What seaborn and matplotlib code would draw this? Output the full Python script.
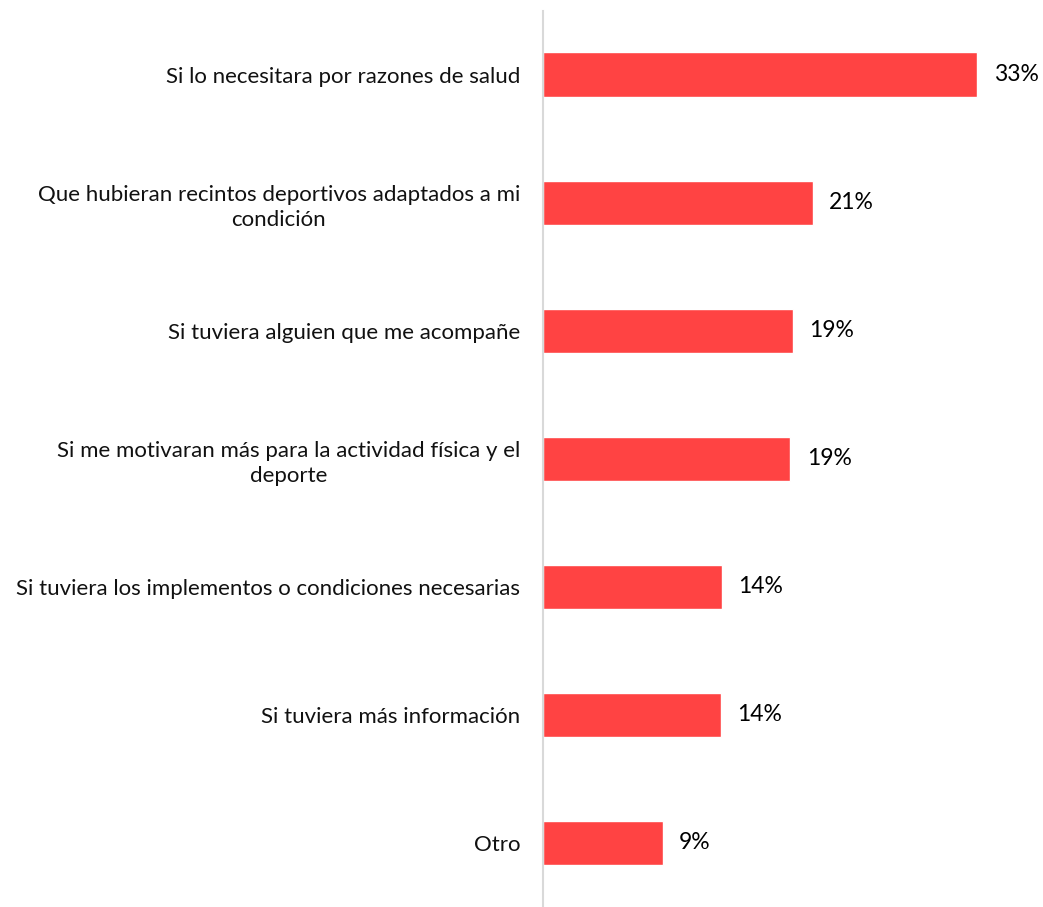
import seaborn as sns
import matplotlib.pyplot as plt
import pandas as pd

# Data
categories = [
    "Si lo necesitara por razones de salud",
    "Que hubieran recintos deportivos adaptados a mi\ncondición",
    "Si tuviera alguien que me acompañe",
    "Si me motivaran más para la actividad física y el\ndeporte",
    "Si tuviera los implementos o condiciones necesarias",
    "Si tuviera más información",
    "Otro",
]
values = [33.0, 20.5, 19.0, 18.8, 13.6, 13.5, 9.1]
labels = ["33%", "21%", "19%", "19%", "14%", "14%", "9%"]

df = pd.DataFrame({"categoria": categories, "porcentaje": values})

sns.set_style("white")
plt.rcParams["font.family"] = ["Lato", "DejaVu Sans"]

fig = plt.figure(figsize=(10.43, 9.07), dpi=100)
ax = fig.add_axes([0.5206, 0.0, 0.4794, 0.988])

sns.barplot(data=df, x="porcentaje", y="categoria", orient="h",
            color="#FF4343", saturation=1, width=0.35, ax=ax)

# Value labels
for i, (v, lab) in enumerate(zip(values, labels)):
    ax.text(v + 1.25, i, lab, va="center", ha="left", fontsize=16.5, color="black")

ax.set_xlim(0, 38)
ax.set_ylim(6.5, -0.5)
ax.set_xlabel("")
ax.set_ylabel("")
ax.set_xticks([])
ax.tick_params(axis="y", length=0, pad=16.5, labelsize=16, labelcolor="#111111")
for lbl in ax.get_yticklabels():
    lbl.set_horizontalalignment("right")
    lbl.set_multialignment("center")
    lbl.set_linespacing(1.3)

for s in ["top", "right", "bottom"]:
    ax.spines[s].set_visible(False)
ax.spines["left"].set_color("#D9D9D9")
ax.spines["left"].set_linewidth(1.5)

plt.savefig("out.png", dpi=100)
